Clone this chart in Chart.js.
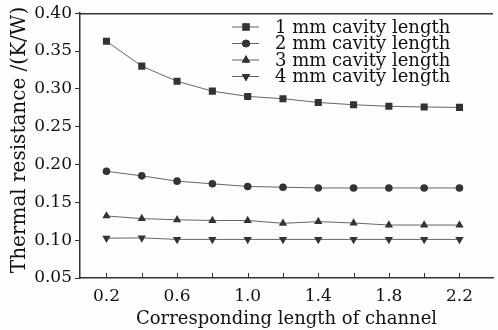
<!DOCTYPE html>
<html>
<head>
<meta charset="utf-8">
<script src="https://cdn.jsdelivr.net/npm/chart.js@4/dist/chart.umd.min.js"></script>
<style>
  html, body { margin: 0; padding: 0; background: #fdfdfd; }
  #wrap { width: 498px; height: 330px; }
</style>
</head>
<body>
<div id="wrap"><canvas id="myChart" width="498" height="330"></canvas></div>
<script>
// channel length (x values) and thermal resistance for each cavity length
const channel = [0.2, 0.4, 0.6, 0.8, 1.0, 1.2, 1.4, 1.6, 1.8, 2.0, 2.2]
const cavity1 = [0.363, 0.330, 0.310, 0.297, 0.290, 0.287, 0.282, 0.279, 0.277, 0.276, 0.2755]
const cavity2 = [0.191, 0.185, 0.178, 0.1745, 0.171, 0.170, 0.169, 0.169, 0.169, 0.169, 0.169]
const cavity3 = [0.132, 0.1285, 0.127, 0.126, 0.126, 0.1223, 0.1245, 0.1227, 0.120, 0.120, 0.120]
const cavity4 = [0.1026, 0.103, 0.101, 0.101, 0.101, 0.101, 0.101, 0.101, 0.101, 0.101, 0.101]
const seriesNames = ['1 mm cavity length', '2 mm cavity length', '3 mm cavity length', '4 mm cavity length']
const xTicks = [0.2, 0.4, 0.6, 0.8, 1.0, 1.2, 1.4, 1.6, 1.8, 2.0, 2.2]
const yTicks = [0.05, 0.10, 0.15, 0.20, 0.25, 0.30, 0.35, 0.40]
const yTitle = 'Thermal resistance /(K/W)'

const SERIF = "'DejaVu Serif', serif"
const INK = '#111'
const LINE = '#666'
const MARK = '#333'

function pts(ys) {
  return channel.map((x, i) => ({x: x, y: ys[i]}))
}

const styles = [
  {pointStyle: 'rect', radius: 5, rotation: 0},
  {pointStyle: 'circle', radius: 3.8, rotation: 0},
  {pointStyle: 'triangle', radius: 4.8, rotation: 0},
  {pointStyle: 'triangle', radius: 4.8, rotation: 180}
]

const allData = [cavity1, cavity2, cavity3, cavity4]
const datasets = allData.map((d, i) => ({
  label: seriesNames[i],
  data: pts(d),
  borderColor: LINE,
  borderWidth: 1,
  backgroundColor: MARK,
  pointBackgroundColor: MARK,
  pointBorderColor: MARK,
  pointBorderWidth: 0,
  pointStyle: styles[i].pointStyle,
  pointRadius: styles[i].radius,
  pointRotation: styles[i].rotation,
  tension: 0
}))

// ticks inside the plot on x, top frame line, y title and legend with line + marker
const extras = {
  id: 'extras',
  afterDraw(chart) {
    const ctx = chart.ctx
    const area = chart.chartArea
    const xs = chart.scales.x
    ctx.save()
    ctx.strokeStyle = '#333'
    ctx.lineWidth = 1.5
    ctx.beginPath()
    ctx.moveTo(area.left, area.top + 0.5)
    ctx.lineTo(area.right, area.top + 0.5)
    ctx.stroke()
    ctx.lineWidth = 1
    ctx.beginPath()
    xTicks.forEach(v => {
      const px = Math.round(xs.getPixelForValue(v)) + 0.5
      ctx.moveTo(px, area.bottom)
      ctx.lineTo(px, area.bottom - 5)
    })
    ctx.stroke()

    // y axis title
    ctx.save()
    ctx.translate(20, 140)
    ctx.rotate(-Math.PI / 2)
    ctx.font = '20px ' + SERIF
    ctx.textAlign = 'center'
    ctx.textBaseline = 'middle'
    ctx.fillStyle = INK
    ctx.fillText(yTitle, 0, 0)
    ctx.restore()

    ctx.font = '18px ' + SERIF
    ctx.textBaseline = 'middle'
    ctx.fillStyle = INK
    seriesNames.forEach((name, i) => {
      const y = 27 + i * 16.5
      ctx.strokeStyle = LINE
      ctx.beginPath()
      ctx.moveTo(232, y)
      ctx.lineTo(259, y)
      ctx.stroke()
      Chart.helpers.drawPoint(ctx, {
        pointStyle: styles[i].pointStyle,
        rotation: styles[i].rotation,
        radius: styles[i].radius,
        borderWidth: 0
      }, 246, y)
      ctx.fillStyle = MARK
      ctx.fill()
      ctx.fillStyle = INK
      ctx.fillText(name, 275, y + 1)
    })
    ctx.restore()
  }
}

const ctx = document.getElementById('myChart').getContext('2d')
const chart = new Chart(ctx, {
  type: 'line',
  data: {datasets: datasets},
  plugins: [extras],
  options: {
    responsive: false,
    animation: false,
    layout: {padding: {top: 12, right: 0, left: 0, bottom: 0}},
    plugins: {legend: {display: false}, tooltip: {enabled: false}},
    scales: {
      x: {
        type: 'linear',
        min: 0.05,
        max: 2.39,
        afterBuildTicks: s => { s.ticks = xTicks.map(v => ({value: v})) },
        afterFit: s => { s.height = 52 },
        grid: {display: true, drawOnChartArea: false, drawTicks: false},
        border: {color: '#333', width: 1.5},
        ticks: {
          autoSkip: false,
          maxRotation: 0,
          padding: 8,
          color: INK,
          font: {family: SERIF, size: 17},
          callback: (v, i) => (i % 2 === 0 ? v.toFixed(1) : '')
        },
        title: {
          display: true,
          text: 'Corresponding length of channel',
          color: INK,
          font: {family: SERIF, size: 18},
          padding: {top: 0, bottom: 0}
        }
      },
      y: {
        min: 0.05,
        max: 0.40,
        afterBuildTicks: s => { s.ticks = yTicks.map(v => ({value: v})) },
        afterFit: s => { s.width = 80 },
        grid: {display: true, drawOnChartArea: false, tickLength: 5, color: '#333'},
        border: {color: '#333', width: 1.5},
        ticks: {
          padding: 3,
          color: INK,
          font: {family: SERIF, size: 17},
          callback: v => v.toFixed(2)
        }
      }
    }
  }
})
</script>
</body>
</html>
